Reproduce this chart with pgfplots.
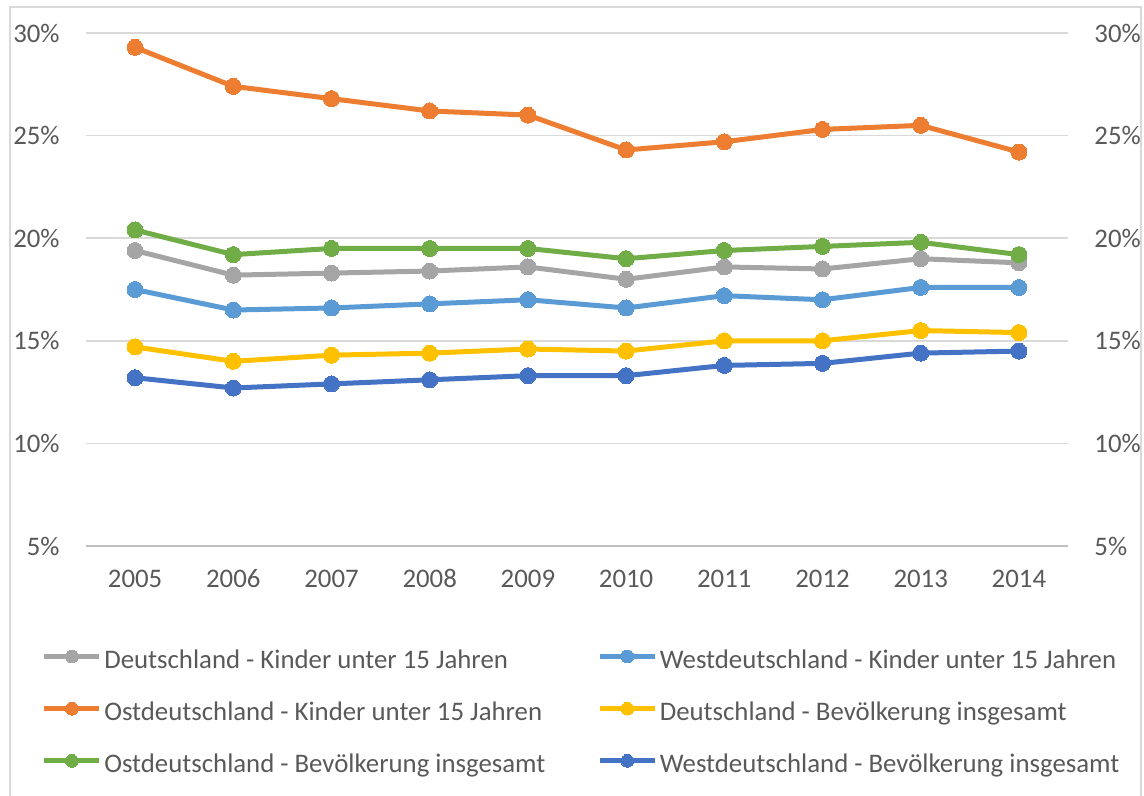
\documentclass[border=0pt]{standalone}
\usepackage{pgfplots}
\pgfplotsset{compat=1.18}
\usepackage{fontspec}
\setmainfont{Carlito}
\definecolor{cgray}{HTML}{A5A5A5}
\definecolor{clblue}{HTML}{5B9BD5}
\definecolor{corange}{HTML}{ED7D31}
\definecolor{cyellow}{HTML}{FFC000}
\definecolor{cgreen}{HTML}{70AD47}
\definecolor{cdblue}{HTML}{4472C4}
\definecolor{ctext}{HTML}{595959}
\definecolor{cgrid}{HTML}{D9D9D9}
\definecolor{caxis}{HTML}{BFBFBF}
\newcommand{\tfont}{\fontsize{13.4}{15.7}\selectfont}
\pgfplotsset{
  ser/.style={color=#1, line width=2.5pt, mark=*, mark size=4pt,
    mark options={solid, fill=#1, draw=#1, line width=0pt}},
  base/.style={at={(43pt,-273pt)}, anchor=south west, scale only axis,
    width=491pt, height=256.5pt, xmin=2004.5, xmax=2014.5, ymin=5, ymax=30,
    axis line style={draw=none}, major tick length=0pt, tick style={draw=none},
    ytick={5,10,15,20,25,30},
    yticklabels={5\%,10\%,15\%,20\%,25\%,30\%},
    ticklabel style={font=\tfont, text=ctext}},
}
\begin{document}
\begin{tikzpicture}
\useasboundingbox (0,0) rectangle (572pt,-398pt);
\draw[color=cgrid, line width=0.75pt] (5pt,-3.5pt) rectangle (570.5pt,-402pt);
\begin{axis}[base,
  xtick={2005,2006,2007,2008,2009,2010,2011,2012,2013,2014},
  xticklabels={2005,2006,2007,2008,2009,2010,2011,2012,2013,2014},
  xticklabel style={anchor=base, inner sep=0pt, yshift=-20.5pt},
  yticklabel style={anchor=east, inner sep=0pt, xshift=-13pt},
  ymajorgrids, grid style={color=cgrid, line width=0.75pt},
  legend columns=2,
  legend style={at={(-0.0449,-0.2028)}, anchor=north west, draw=none, fill=none,
    inner sep=0pt, outer sep=0pt, font=\tfont, text=ctext,
    nodes={inner sep=0pt, text height=9pt, text depth=3pt},
    row sep=13.9pt,
    /tikz/every odd column/.append style={column sep=1.2pt},
    /tikz/every even column/.append style={column sep=26pt}},
  legend cell align=left,
  legend image code/.code={\draw[#1, mark size=3.2pt, mark repeat=2, mark phase=2] plot coordinates {(0pt,3pt) (13.75pt,3pt) (27.5pt,3pt)};},
]
\draw[color=caxis, line width=1pt] (axis cs:2004.5,5) -- (axis cs:2014.5,5);
\addplot[ser=cgray] coordinates {(2005,19.4) (2006,18.2) (2007,18.3) (2008,18.4) (2009,18.6) (2010,18.0) (2011,18.6) (2012,18.5) (2013,19.0) (2014,18.8)};
\addlegendentry{Deutschland - Kinder unter 15 Jahren}
\addplot[ser=clblue] coordinates {(2005,17.5) (2006,16.5) (2007,16.6) (2008,16.8) (2009,17.0) (2010,16.6) (2011,17.2) (2012,17.0) (2013,17.6) (2014,17.6)};
\addlegendentry{Westdeutschland - Kinder unter 15 Jahren}
\addplot[ser=corange] coordinates {(2005,29.3) (2006,27.4) (2007,26.8) (2008,26.2) (2009,26.0) (2010,24.3) (2011,24.7) (2012,25.3) (2013,25.5) (2014,24.2)};
\addlegendentry{Ostdeutschland - Kinder unter 15 Jahren}
\addplot[ser=cyellow] coordinates {(2005,14.7) (2006,14.0) (2007,14.3) (2008,14.4) (2009,14.6) (2010,14.5) (2011,15.0) (2012,15.0) (2013,15.5) (2014,15.4)};
\addlegendentry{Deutschland - Bevölkerung insgesamt}
\addplot[ser=cgreen] coordinates {(2005,20.4) (2006,19.2) (2007,19.5) (2008,19.5) (2009,19.5) (2010,19.0) (2011,19.4) (2012,19.6) (2013,19.8) (2014,19.2)};
\addlegendentry{Ostdeutschland - Bevölkerung insgesamt}
\addplot[ser=cdblue] coordinates {(2005,13.2) (2006,12.7) (2007,12.9) (2008,13.1) (2009,13.3) (2010,13.3) (2011,13.8) (2012,13.9) (2013,14.4) (2014,14.5)};
\addlegendentry{Westdeutschland - Bevölkerung insgesamt}
\end{axis}
\begin{axis}[base, xtick=\empty, yticklabel pos=right,
  yticklabel style={anchor=west, inner sep=0pt, xshift=13pt}]
\end{axis}
\end{tikzpicture}
\end{document}
